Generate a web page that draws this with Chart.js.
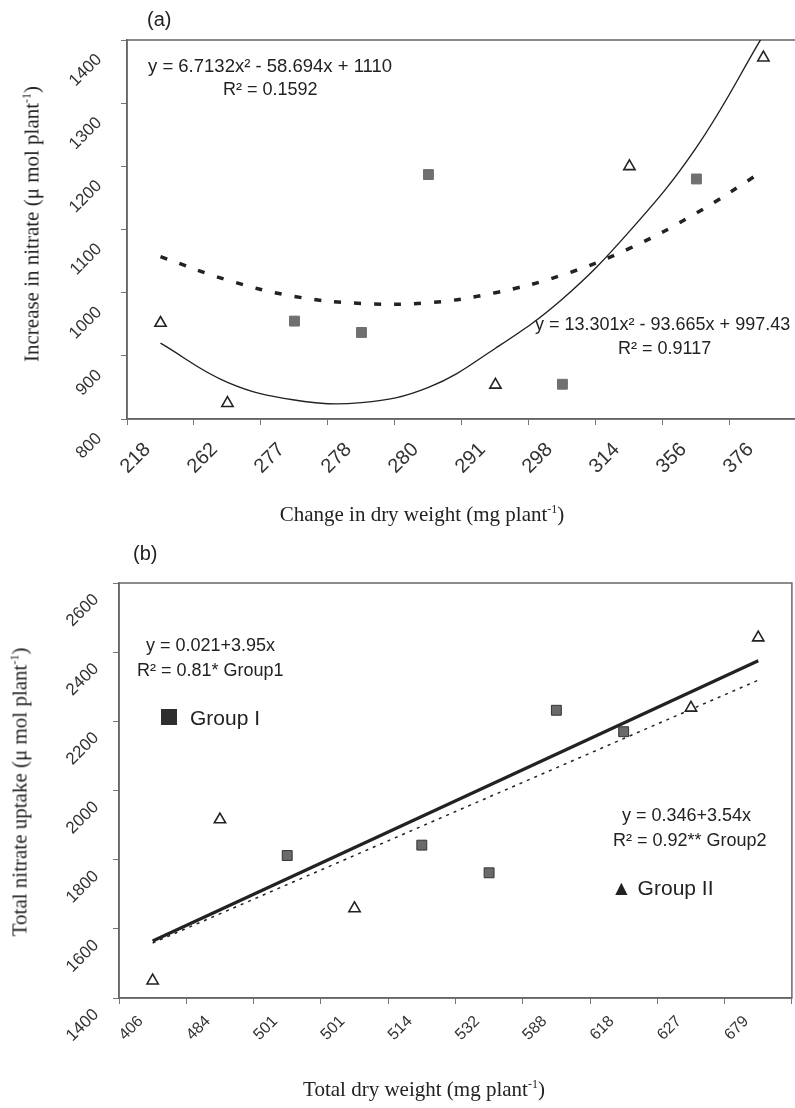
<!DOCTYPE html>
<html>
<head>
<meta charset="utf-8">
<script src="https://cdn.jsdelivr.net/npm/chart.js@4.4.1/dist/chart.umd.min.js"></script>
<style>
html, body { margin: 0; padding: 0; background: #fff; }
body { width: 795px; height: 1108px; position: relative; overflow: hidden; }
canvas { position: absolute; left: 0; }
#chartA { top: 0; }
#chartB { top: 540px; }
.note { position: absolute; font-family: "Liberation Sans", Arial, sans-serif; font-size: 18px; color: #222; white-space: nowrap; line-height: 1; }
.title { position: absolute; font-family: "Liberation Serif", "Times New Roman", serif; font-size: 21px; color: #222; white-space: nowrap; line-height: 1; }
.title sup { font-size: 12px; vertical-align: 8px; line-height: 0; }
.ylab { transform: translate(-50%, -50%) rotate(-90deg); }
.xlab { transform: translate(-50%, -50%); }
.box { position: absolute; width: 16px; height: 16px; background: #2e2e2e; }
</style>
</head>
<body>
<canvas id="chartA" width="805" height="540"></canvas>
<canvas id="chartB" width="800" height="568"></canvas>

<div class="note" style="left:147px;top:9px;font-size:20px">(a)</div>
<div class="note" style="left:148px;top:57px;font-size:18.5px">y = 6.7132x² - 58.694x + 1110</div>
<div class="note" style="left:223px;top:80px">R² = 0.1592</div>
<div class="note" style="left:535px;top:315px">y = 13.301x² - 93.665x + 997.43</div>
<div class="note" style="left:618px;top:339px">R² = 0.9117</div>
<div class="title ylab" style="left:32px;top:224px">Increase in nitrate (μ mol plant<sup>-1</sup>)</div>
<div class="title xlab" style="left:422px;top:514px">Change in dry weight (mg plant<sup>-1</sup>)</div>

<div class="note" style="left:133px;top:543px;font-size:20px">(b)</div>
<div class="note" style="left:146px;top:636px">y = 0.021+3.95x</div>
<div class="note" style="left:137px;top:661px">R² = 0.81* Group1</div>
<div class="box" style="left:161px;top:709px"></div>
<div class="note" style="left:190px;top:707px;font-size:21px">Group I</div>
<div class="note" style="left:622px;top:806px">y = 0.346+3.54x</div>
<div class="note" style="left:613px;top:831px">R² = 0.92** Group2</div>
<div class="note" style="left:611px;top:877px;font-size:21px">▲ Group II</div>
<div class="title ylab" style="left:20px;top:792px">Total nitrate uptake (μ mol plant<sup>-1</sup>)</div>
<div class="title xlab" style="left:424px;top:1089px">Total dry weight (mg plant<sup>-1</sup>)</div>

<script>
// (a) increase in nitrate vs change in dry weight
const weightA = ['218', '262', '277', '278', '280', '291', '298', '314', '356', '376'];
const nitrateGroup1A = [null, null, 955, 937, 1187, null, 855, null, 1180, null];
const nitrateGroup2A = [952, 825, null, null, null, 854, null, 1200, null, 1372];
const trendGroup1A = [1057, 1020, 994, 983, 984, 1000, 1028, 1070, 1126, 1193];
const trendGroup2A = [920, 858, 830, 826, 850, 912, 990, 1097, 1230, 1408];
const yTicksA = [800, 900, 1000, 1100, 1200, 1300, 1400];

// (b) total nitrate uptake vs total dry weight
const weightB = ['406', '484', '501', '501', '514', '532', '588', '618', '627', '679'];
const uptakeGroup1B = [null, null, 1812, null, 1842, 1762, 2232, 2170, null, null];
const uptakeGroup2B = [1450, 1916, null, 1659, null, null, null, null, 2239, 2442];
const fitGroup1B = [1565, null, null, null, null, null, null, null, null, 2375];
const fitGroup2B = [1559, null, null, null, null, null, null, null, null, 2319];
const yTicksB = [1400, 1600, 1800, 2000, 2200, 2400, 2600];

const sans = '"Liberation Sans", Arial, sans-serif';

const framePlugin = {
    id: 'frame',
    beforeDatasetsDraw(chart) {
        const a = chart.chartArea, ctx = chart.ctx;
        ctx.save();
        ctx.strokeStyle = '#666';
        ctx.lineWidth = 1.5;
        ctx.strokeRect(a.left, a.top, a.right - a.left, a.bottom - a.top);
        ctx.restore();
    }
};

function squares(data, fill, border) {
    return { data: data, showLine: false, pointStyle: 'rect', pointRadius: 7,
             backgroundColor: fill, borderColor: border, pointBorderWidth: 1 };
}
function triangles(data) {
    return { data: data, showLine: false, pointStyle: 'triangle', pointRadius: 6.5,
             backgroundColor: '#fff', borderColor: '#222', pointBorderWidth: 1.6 };
}
function fitLine(data, width, dash, tension) {
    return { data: data, pointRadius: 0, borderColor: '#222', borderWidth: width,
             borderDash: dash, spanGaps: true, tension: tension };
}

function makeChart(id, labels, datasets, yTicks, box) {
    return new Chart(document.getElementById(id), {
        type: 'line',
        data: { labels: labels, datasets: datasets },
        options: {
            responsive: false,
            animation: false,
            layout: { padding: { top: box.top, right: box.right, left: 0, bottom: 0 } },
            plugins: { legend: { display: false }, tooltip: { enabled: false } },
            scales: {
                x: {
                    type: 'category', offset: true,
                    grid: { offset: true, drawOnChartArea: false, tickLength: 6, color: '#777' },
                    border: { color: '#666', width: 1.5 },
                    ticks: { autoSkip: false, minRotation: 45, maxRotation: 45, color: '#333',
                             font: { family: sans, size: box.xFont },
                             padding: box.xPad, labelOffset: box.xOff },
                    afterFit: s => { s.height = box.xHeight; }
                },
                y: {
                    min: yTicks[0], max: yTicks[yTicks.length - 1],
                    afterBuildTicks: s => { s.ticks = yTicks.map(v => ({ value: v })); },
                    grid: { drawOnChartArea: false, tickLength: 6, color: '#777' },
                    border: { color: '#666', width: 1.5 },
                    ticks: { minRotation: 45, maxRotation: 45, color: '#333',
                             font: { family: sans, size: 17 },
                             padding: box.yPad, labelOffset: box.yOff, callback: v => String(v) },
                    afterFit: s => { s.width = box.yWidth; }
                }
            }
        },
        plugins: [framePlugin]
    });
}

makeChart('chartA', weightA, [
    squares(nitrateGroup1A, '#707070', '#707070'),
    triangles(nitrateGroup2A),
    fitLine(trendGroup2A, 1.4, [], 0.4),
    fitLine(trendGroup1A, 3.5, [7, 13], 0.4)
], yTicksA, { top: 40, right: 5, xHeight: 121, yWidth: 127,
              xFont: 20, xPad: 13, xOff: -13, yPad: 22, yOff: 17 });

makeChart('chartB', weightB, [
    squares(uptakeGroup1B, '#6a6a6a', '#333'),
    triangles(uptakeGroup2B),
    fitLine(fitGroup1B, 3.2, [], 0),
    fitLine(fitGroup2B, 1.5, [3, 5], 0)
], yTicksB, { top: 43, right: 4, xHeight: 110, yWidth: 119,
              xFont: 16, xPad: 8, xOff: -12, yPad: 17, yOff: 14 });
</script>
</body>
</html>
